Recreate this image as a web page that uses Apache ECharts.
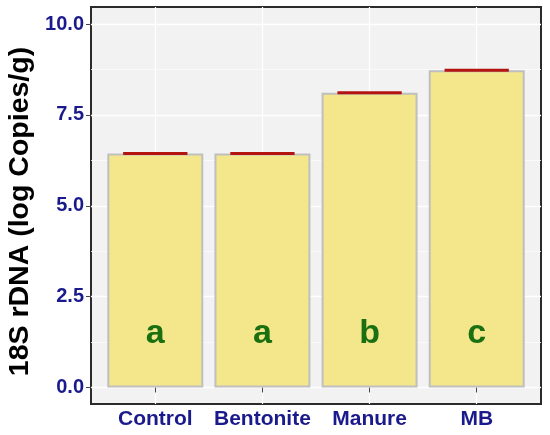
<!DOCTYPE html>
<html><head><meta charset="utf-8">
<script src="https://cdn.jsdelivr.net/npm/echarts@6/dist/echarts.min.js"></script>
<style>html,body{margin:0;padding:0;background:#fff}#c{width:550px;height:435px}</style>
</head><body><div id="c"></div>
<script>
const categories = ['Control', 'Bentonite', 'Manure', 'MB'];
const values = [6.44, 6.44, 8.11, 8.73];
const letters = ['a', 'a', 'b', 'c'];
const letterY = 1.95;
const yTicks = [0, 2.5, 5, 7.5, 10];
const yMinor = [1.25, 3.75, 6.25, 8.75];
const xTicks = [1, 2, 3, 4];

const navy = '#1a1a8c';
const font = 'Liberation Sans, Arial, sans-serif';
const chart = echarts.init(document.getElementById('c'));
const barData = values.map((v, i) => [i + 1, v]);
const letterData = letters.map((l, i) => [i + 1, letterY]);

chart.setOption({
  animation: false,
  grid: { left: 91, width: 450, top: 7, height: 397, outerBoundsMode: 'none', containLabel: false, show: true, backgroundColor: '#f2f2f2', borderColor: '#2b2b2b', borderWidth: 2 },
  xAxis: [{
    type: 'value', min: 0.4, max: 4.6,
    axisLine: { show: false },
    axisTick: { show: true, length: 5, lineStyle: { color: '#444', width: 1 }, customValues: xTicks },
    axisLabel: { customValues: xTicks, formatter: v => categories[Math.round(v) - 1], color: navy, fontWeight: 'bold', fontSize: 21, fontFamily: font, margin: 5 },
    splitLine: { show: true, lineStyle: { color: '#ffffff', width: 1.2 } }
  }],
  yAxis: [{
    type: 'value', min: -0.455, max: 10.47,
    axisLine: { show: false },
    axisTick: { show: true, length: 5, lineStyle: { color: '#444', width: 1 }, customValues: yTicks },
    axisLabel: { customValues: yTicks, formatter: v => v.toFixed(1), color: navy, fontWeight: 'bold', fontSize: 20, fontFamily: font, margin: 7 },
    splitLine: { show: true, lineStyle: { color: '#ffffff', width: 1.3 } },
    name: '18S rDNA (log Copies/g)', nameLocation: 'middle', nameGap: 55,
    nameTextStyle: { color: '#000', fontWeight: 'bold', fontSize: 28.5, fontFamily: font, padding: [0, 12, 0, 0] }
  }, {
    type: 'value', min: -0.455, max: 10.47, position: 'left',
    axisLine: { show: false }, axisLabel: { show: false },
    axisTick: { show: false, customValues: yMinor },
    splitLine: { show: true, lineStyle: { color: '#fbfbfb', width: 0.8 } }
  }],
  series: [{
    type: 'bar', data: barData, barWidth: 96,
    itemStyle: { color: '#f3e68b', borderColor: '#bfbfbf', borderWidth: 2 },
    z: 2
  }, {
    type: 'custom', data: barData, z: 3,
    renderItem: (params, api) => {
      const x = api.value(0), v = api.value(1);
      const p1 = api.coord([x - 0.3, v]), p2 = api.coord([x + 0.3, v]);
      return { type: 'line', shape: { x1: p1[0], y1: p1[1], x2: p2[0], y2: p2[1] }, style: { stroke: '#b3140f', lineWidth: 3 } };
    }
  }, {
    type: 'custom', data: letterData, z: 4,
    renderItem: (params, api) => {
      const p = api.coord([api.value(0), api.value(1)]);
      return { type: 'text', x: p[0], y: p[1], style: { text: letters[params.dataIndex], fill: '#1a7010', font: 'bold 34px ' + font, align: 'center', verticalAlign: 'top' } };
    }
  }]
});
</script></body></html>
